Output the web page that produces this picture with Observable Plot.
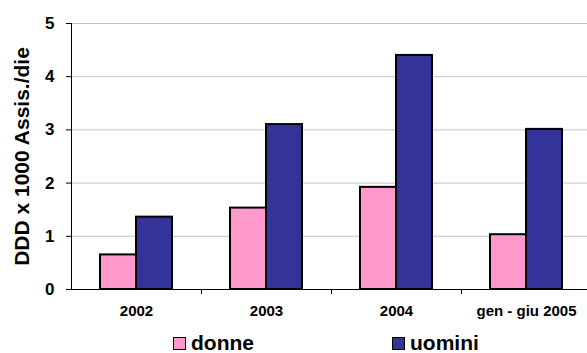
<!DOCTYPE html>
<html>
<head>
<meta charset="utf-8">
<script src="https://cdn.jsdelivr.net/npm/d3@7"></script>
<script src="https://cdn.jsdelivr.net/npm/@observablehq/plot@0.6"></script>
<style>
  html, body { margin: 0; padding: 0; background: #fff; overflow: hidden; }
  #wrap { position: relative; width: 587px; height: 353px; font-family: "Liberation Sans", Arial, sans-serif; }
  #legend { position: absolute; left: 0; top: 333px; width: 587px; height: 20px; font-weight: bold; font-size: 21px; color: #000; }
  .item { position: absolute; top: 0; display: flex; align-items: flex-start; }
  .sw { width: 11px; height: 11px; border: 1.5px solid #000; margin-top: 4px; margin-right: 5px; }
</style>
</head>
<body>
<div id="wrap"><div id="chart"></div><div id="legend"></div></div>
<script>
const categories = ["2002", "2003", "2004", "gen - giu 2005"];
const series = ["donne", "uomini"];
const donne = [0.65, 1.53, 1.92, 1.03];
const uomini = [1.36, 3.10, 4.40, 3.01];
const colors = ["#FF99CC", "#333399"];
const yTicks = [0, 1, 2, 3, 4, 5];
const yLabel = "DDD x 1000 Assis./die";
const legendX = [173, 392];

const rows = [];
categories.forEach((c, i) => {
  rows.push({cat: c, s: series[0], v: donne[i]});
  rows.push({cat: c, s: series[1], v: uomini[i]});
});

const chart = Plot.plot({
  width: 587,
  height: 330,
  marginLeft: 70,
  marginRight: -5,
  marginTop: 23,
  marginBottom: 41,
  style: {fontFamily: "'Liberation Sans', Arial, sans-serif", background: "#fff", overflow: "visible"},
  fx: {domain: categories, padding: 0, label: null, axis: null},
  x: {domain: series, paddingInner: 0, paddingOuter: 0.757, axis: null},
  y: {domain: [0, 5]},
  color: {domain: series, range: colors},
  marks: [
    Plot.gridY(yTicks, {stroke: "#c4c4c4", strokeOpacity: 1, strokeWidth: 1}),
    Plot.barY(rows, {fx: "cat", x: "s", y: "v", fill: "s", stroke: "#000", strokeWidth: 2}),
    Plot.ruleY([0], {stroke: "#000", strokeWidth: 1}),
    Plot.ruleX(categories.slice(0, 3), {fx: d => d, x: () => series[1], dx: 47, y1: 0, y2: -0.094, stroke: "#000"}),
    Plot.frame({anchor: "left", facetAnchor: "left", stroke: "#000"}),
    Plot.axisY(yTicks, {tickSize: 5, tickPadding: 12, fontSize: 17, fontWeight: "bold", stroke: "#000",
      tickFormat: d => String(d),
      label: yLabel, labelAnchor: "center", labelArrow: "none", labelOffset: 57}),
    Plot.axisFx({anchor: "bottom", tickSize: 0, tickPadding: 16, fontSize: 15, fontWeight: "bold", label: null})
  ]
});
document.getElementById("chart").appendChild(chart);

// y label font size
chart.querySelectorAll('[aria-label="y-axis label"] text, [aria-label="y-axis label"]').forEach(el => {
  el.setAttribute("font-size", 21);
  el.setAttribute("font-weight", "bold");
});

const legend = document.getElementById("legend");
series.forEach((s, i) => {
  const item = document.createElement("div");
  item.className = "item";
  item.style.left = legendX[i] + "px";
  const sw = document.createElement("div");
  sw.className = "sw";
  sw.style.background = colors[i];
  const t = document.createElement("span");
  t.textContent = s;
  t.style.lineHeight = "20px";
  item.appendChild(sw);
  item.appendChild(t);
  legend.appendChild(item);
});
</script>
</body>
</html>
